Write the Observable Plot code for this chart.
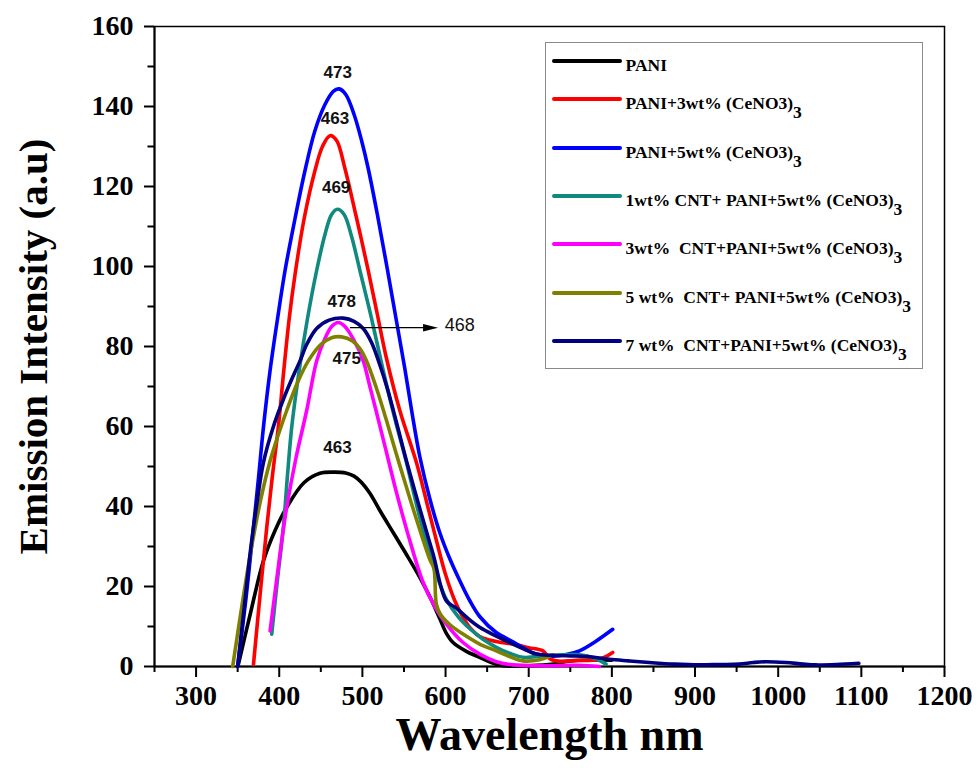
<!DOCTYPE html>
<html><head><meta charset="utf-8">
<script src="https://cdn.jsdelivr.net/npm/d3@7"></script>
<script src="https://cdn.jsdelivr.net/npm/@observablehq/plot@0.6"></script>
<style>
body{margin:0;background:#fff;}
#wrap{position:relative;width:977px;height:780px;background:#fff;}
#legend{position:absolute;left:545px;top:41.7px;width:378px;height:327px;border:1.5px solid #8a8a8a;box-sizing:border-box;background:#fff;
  font-family:'Liberation Serif','Times New Roman',serif;font-weight:bold;font-size:17.5px;color:#000;}
.sw{position:absolute;left:5.5px;width:70px;height:4px;border-radius:2px;}
.lab{position:absolute;left:79.5px;white-space:pre;line-height:1;}
.lab sub{font-size:17.5px;vertical-align:baseline;position:relative;top:9px;line-height:0;}
</style></head><body><div id="wrap"></div>
<script>
// ---- data (wavelength nm, emission intensity a.u.) ----
const seriesNames = [
  "PANI",
  "PANI+3wt% (CeNO3)",
  "PANI+5wt% (CeNO3)",
  "1wt% CNT+ PANI+5wt% (CeNO3)",
  "3wt%  CNT+PANI+5wt% (CeNO3)",
  "5 wt%  CNT+ PANI+5wt% (CeNO3)",
  "7 wt%  CNT+PANI+5wt% (CeNO3)"
];
const seriesSub = ["", "3", "3", "3", "3", "3", "3"];
const seriesColors = ["#000000", "#ff0000", "#0000ff", "#108a80", "#ff00ff", "#808000", "#000080"];

const pani = [[351,0.6],[365,13],[381,26.4],[395,34],[409,39.8],[430,46],[449,48.3],[465,48.6],[480,48.4],[490,47.6],[499,46],[509,43.3],[521,39],[537,33.5],[553,28],[569,22.3],[581,17.5],[593,12],[601,8.3],[609,6],[625,3.8],[641,2.3],[655,1],[669,0.2],[700,0.2],[730,0.6],[750,1.4],[800,1.6]];
const pani3Ce = [[369,0.5],[377,18],[385,34.8],[392,48],[399,60],[405,73],[412,87],[419,98],[430,112],[443,124],[452,130],[461,132.7],[469,131.5],[479,124.5],[492,113],[507,99],[518,88],[529,77],[545,64],[565,51],[578,40.5],[589,31.5],[600,23],[611,16.5],[621,12.3],[631,9.3],[641,7.5],[653,6.6],[667,6],[681,5.6],[700,4.7],[717,3.9],[725,2],[733,1.4],[760,1.5],[781,1.6],[792,2.4],[801,3.5]];
const pani5Ce = [[350,0],[360,17],[369,34.8],[375,47],[381,59.8],[389,74],[398,87],[407,99],[419,112],[431,124],[443,134],[455,140.5],[465,143.8],[472,144.4],[480,143],[490,138],[499,131.5],[507,124.5],[518,113],[529,100.5],[540,87.5],[551,74.5],[560,63],[569,52.5],[581,42],[593,33.5],[605,27],[617,21.5],[629,16.5],[641,12.5],[661,8.5],[681,6.2],[695,4.5],[709,3.1],[730,2.6],[745,3],[761,3.9],[780,6.2],[801,9.3]];
const cnt1 = [[391,8.1],[398,22],[405,34.8],[410,48],[415,59.8],[424,74],[434,87],[445,99],[455,108],[463,113],[470,114.3],[478,113],[487,107.5],[497,99],[511,87],[525,74],[539,62],[553,51],[565,40.5],[577,31],[589,23],[601,16.8],[615,12.5],[629,9.5],[645,6.8],[661,4.8],[677,3.3],[693,2.3],[721,2.7],[761,2.9],[780,2],[793,0.6]];
const cnt3 = [[389,8.9],[394,17],[399,25],[404,33],[409,39.8],[420,52],[433,64],[445,76.4],[455,82],[463,85],[471,86],[479,85],[490,81.5],[501,76.4],[509,70],[517,63.5],[529,53.5],[541,43.5],[557,31.5],[573,21],[587,15],[601,10.6],[621,6],[641,3.1],[661,1.2],[681,0.4],[720,0.2],[760,0.3],[785,0]];
const cnt5 = [[344,0],[355,15],[366,29],[378,42],[389,51.4],[399,58],[409,64],[422,71],[435,76.4],[450,80.5],[463,82.2],[475,82.4],[488,81.4],[497,79.5],[505,76.4],[517,69.5],[529,61.5],[541,53],[553,44.8],[567,35.5],[581,26.8],[586,24.5],[589,15.5],[594,13],[605,10.5],[621,8.1],[641,5.6],[661,3.9],[677,2.5],[693,1.4],[713,1.7],[729,2.9]];
const cnt7 = [[350,0],[358,15],[366,30],[374,42],[381,51],[393,60],[405,66.8],[415,71.8],[425,76.4],[433,80.5],[445,84.5],[460,86.6],[477,87.1],[490,86.3],[501,84.5],[511,81],[520,76],[530,69.5],[541,61],[553,51.4],[569,39.5],[585,28.1],[601,16.4],[613,14.6],[627,12],[641,9.8],[661,7.6],[681,5.6],[695,4.3],[709,3.1],[745,2.7],[770,2.5],[797,1.8],[820,1.4],[845,1],[875,0.6],[905,0.4],[930,0.5],[953,0.6],[970,1],[985,1.2],[1009,1],[1030,0.6],[1045,0.4],[1070,0.5],[1097,0.8]];
const seriesData = [pani, pani3Ce, pani5Ce, cnt1, cnt3, cnt5, cnt7];

// peak annotations
const peakText = ["473", "463", "469", "478", "475", "463"];
const peakNm   = [470.4, 467, 468.4, 475.2, 481.2, 470];
const peakVal  = [148.4, 137.1, 119.8, 91.3, 77, 54.8];
const arrowFrom = [485, 84.7];
const arrowTo = [591, 84.7];
const arrowText = ["468"];
const arrowTextPos = [599, 85.2];

// ticks
const xMajorTicks = d3.range(300, 1201, 100);
const xMinorTicks = d3.range(250, 1201, 50).filter(v => v % 100 !== 0);
const yMajorTicks = d3.range(0, 161, 20);
const yMinorTicks = d3.range(10, 160, 20);

const xTitle = "Wavelength nm";
const yTitle = "Emission Intensity (a.u)";

// ---- build ----
const rows = seriesData.flatMap((pts, i) => pts.map(([x, y]) => ({x, y, s: seriesNames[i]})));
const rightTri = {draw(ctx) { ctx.moveTo(0, 0); ctx.lineTo(-15, -3.8); ctx.lineTo(-15, 3.8); ctx.closePath(); }};
const serif = "'Liberation Serif','Times New Roman',serif";
const sans = "'Liberation Sans',Arial,sans-serif";

const chart = Plot.plot({
  width: 977, height: 780,
  marginLeft: 154, marginRight: 33, marginTop: 26, marginBottom: 114,
  x: {domain: [250, 1200], label: null},
  y: {domain: [0, 160], label: null},
  color: {domain: seriesNames, range: seriesColors},
  style: {fontFamily: serif, background: "#fff", color: "#000"},
  marks: [
    Plot.frame({stroke: "#000", strokeWidth: 1.5}),
    Plot.axisX(xMinorTicks, {tickSize: 6, tickFormat: () => "", strokeWidth: 2}),
    Plot.axisX(xMajorTicks, {tickSize: 11, tickPadding: 8, tickFormat: d => String(d), fontSize: 28, fontWeight: "bold", strokeWidth: 2, fontFamily: serif}),
    Plot.axisY(yMinorTicks, {tickSize: 6.5, tickFormat: () => "", strokeWidth: 2}),
    Plot.axisY(yMajorTicks, {tickSize: 10, tickPadding: 11, tickFormat: d => String(d), fontSize: 28, fontWeight: "bold", strokeWidth: 2, fontFamily: serif}),
    Plot.ruleY([0], {strokeWidth: 2}),
    Plot.ruleX([250], {strokeWidth: 2}),
    Plot.line(rows, {x: "x", y: "y", z: "s", stroke: "s", strokeWidth: 3.6, curve: "catmull-rom", strokeLinejoin: "round", strokeLinecap: "round"}),
    Plot.text(peakText, {x: peakNm, y: peakVal, text: d => d, fontFamily: sans, fontWeight: "bold", fontSize: 17, fill: "#111"}),
    Plot.link([0], {x1: arrowFrom[0], y1: arrowFrom[1], x2: arrowTo[0] - 14, y2: arrowTo[1], stroke: "#000", strokeWidth: 1.2}),
    Plot.dot([0], {x: arrowTo[0], y: arrowTo[1], symbol: rightTri, fill: "#000", stroke: "none", r: 5}),
    Plot.text(arrowText, {x: arrowTextPos[0], y: arrowTextPos[1], text: d => d, textAnchor: "start", fontFamily: sans, fontSize: 18, fill: "#111"}),
    Plot.text([xTitle], {frameAnchor: "bottom", dy: 69, text: d => d, fontSize: 46, fontWeight: "bold", fontFamily: serif, lineAnchor: "middle", textAnchor: "middle"}),
    Plot.text([yTitle], {frameAnchor: "left", dx: -121, rotate: -90, text: d => d, fontSize: 41, fontWeight: "bold", fontFamily: serif, lineAnchor: "middle", textAnchor: "middle"})
  ]
});

const wrap = document.getElementById("wrap");
wrap.appendChild(chart);

// legend overlay (inside the plot frame, top-right)
const legend = document.createElement("div");
legend.id = "legend";
let y = 18.5;
seriesNames.forEach((name, i) => {
  if (i > 0) y += seriesSub[i - 1] ? 48.3 : 38.3;
  const sw = document.createElement("div");
  sw.className = "sw";
  sw.style.top = (y - 2) + "px";
  sw.style.background = seriesColors[i];
  const lab = document.createElement("div");
  lab.className = "lab";
  lab.style.top = (y - 4) + "px";
  lab.textContent = name;
  if (seriesSub[i]) { const s = document.createElement("sub"); s.textContent = seriesSub[i]; lab.appendChild(s); }
  legend.appendChild(sw);
  legend.appendChild(lab);
});
wrap.appendChild(legend);
</script></body></html>
